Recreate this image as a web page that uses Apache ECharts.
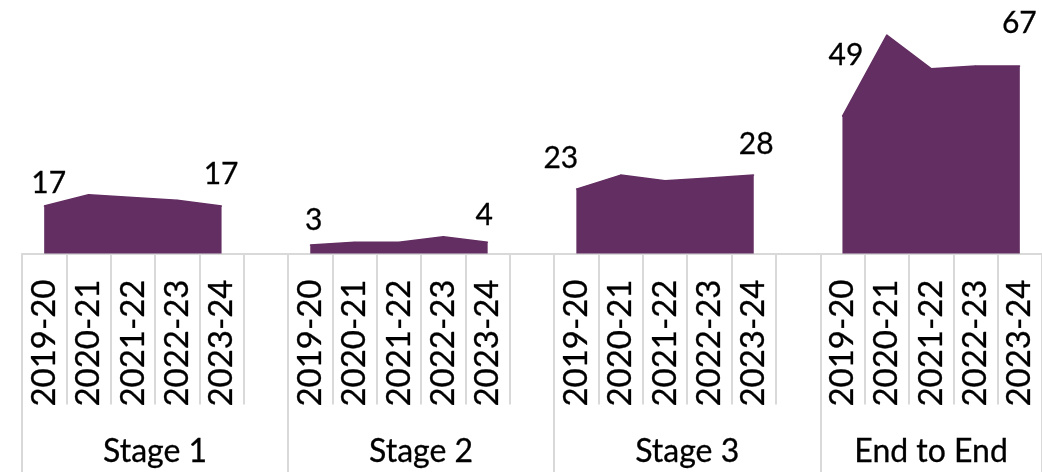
<!DOCTYPE html>
<html>
<head>
<meta charset="utf-8">
<script src="https://cdn.jsdelivr.net/npm/echarts@6/dist/echarts.min.js"></script>
<style>
  html, body { margin: 0; padding: 0; background: #ffffff; }
  #chart { width: 1042px; height: 472px; }
</style>
</head>
<body>
<div id="chart"></div>
<script>
// ---- data ----
var groups = ['Stage 1', 'Stage 2', 'Stage 3', 'End to End'];
var years = ['2019-20', '2020-21', '2021-22', '2022-23', '2023-24'];
var stage1 = [17, 21, 20, 19, 17];
var stage2 = [3, 4, 4, 6, 4];
var stage3 = [23, 28, 26, 27, 28];
var endToEnd = [49, 78, 66, 67, 67];

// ---- label placement (style, not data) ----
var labelOffsets = [
  [[5, -22], [0, -31]],
  [[4, -24], [-3, -26]],
  [[-15, -30], [3, -30]],
  [[4, -60], [0, -42]]
];

var groupValues = [stage1, stage2, stage3, endToEnd];
var FONT = 'Lato, sans-serif';
var PURPLE = '#632E62';
var GRID = '#d9d9d9';
var TEXT_STYLE = { fontFamily: FONT, color: '#000000', textBorderColor: '#000000', textBorderWidth: 0.3 };

var categories = [];
var seriesData = [];
var groupStarts = [];
var groupCenters = [];
groupValues.forEach(function (vals, g) {
  var start = categories.length;
  groupStarts.push(start);
  vals.forEach(function (v, i) {
    categories.push(years[i]);
    var item = { value: v };
    if (i === 0 || i === vals.length - 1) {
      var off = labelOffsets[g][i === 0 ? 0 : 1];
      item.label = Object.assign({
        show: true,
        position: off,
        align: 'center',
        verticalAlign: 'middle',
        fontSize: 30
      }, TEXT_STYLE);
    }
    seriesData.push(item);
  });
  var slots = vals.length;
  if (g < groupValues.length - 1) {
    categories.push('');
    seriesData.push('-');
    slots += 1;
  }
  groupCenters.push(start + slots / 2);
});
var total = categories.length;
var groupEdges = groupStarts.concat([total]);

var chart = echarts.init(document.getElementById('chart'), null, { renderer: 'canvas' });
chart.setOption({
  animation: false,
  backgroundColor: '#ffffff',
  grid: { left: 22, right: 0, top: 1.5, bottom: 218.5, containLabel: false },
  xAxis: [
    {
      type: 'category',
      data: categories,
      boundaryGap: true,
      position: 'bottom',
      axisLine: { show: true, onZero: false, lineStyle: { color: GRID, width: 2 } },
      axisTick: { show: true, interval: 0, length: 151, lineStyle: { color: GRID, width: 2 } },
      axisLabel: Object.assign({
        interval: 0,
        rotate: 90,
        margin: 26,
        fontSize: 33
      }, TEXT_STYLE),
      splitLine: { show: false }
    },
    {
      type: 'value',
      min: 0,
      max: total,
      position: 'bottom',
      axisLine: { show: false, onZero: false },
      axisTick: { show: true, length: 219, customValues: groupEdges, lineStyle: { color: GRID, width: 2 } },
      axisLabel: Object.assign({
        show: true,
        customValues: groupCenters,
        margin: 182,
        fontSize: 32,
        formatter: function (v) {
          var idx = groupCenters.indexOf(v);
          return idx >= 0 ? groups[idx] : '';
        }
      }, TEXT_STYLE),
      splitLine: { show: false }
    }
  ],
  yAxis: {
    type: 'value',
    min: 0,
    max: 90,
    show: false,
    splitLine: { show: false }
  },
  series: [
    {
      type: 'line',
      xAxisIndex: 0,
      yAxisIndex: 0,
      data: seriesData,
      connectNulls: false,
      showSymbol: true,
      symbol: 'circle',
      symbolSize: 1,
      itemStyle: { color: PURPLE },
      lineStyle: { color: PURPLE, width: 1.5 },
      areaStyle: { color: PURPLE, opacity: 1, origin: 'start' },
      z: 3
    }
  ]
});
</script>
</body>
</html>
